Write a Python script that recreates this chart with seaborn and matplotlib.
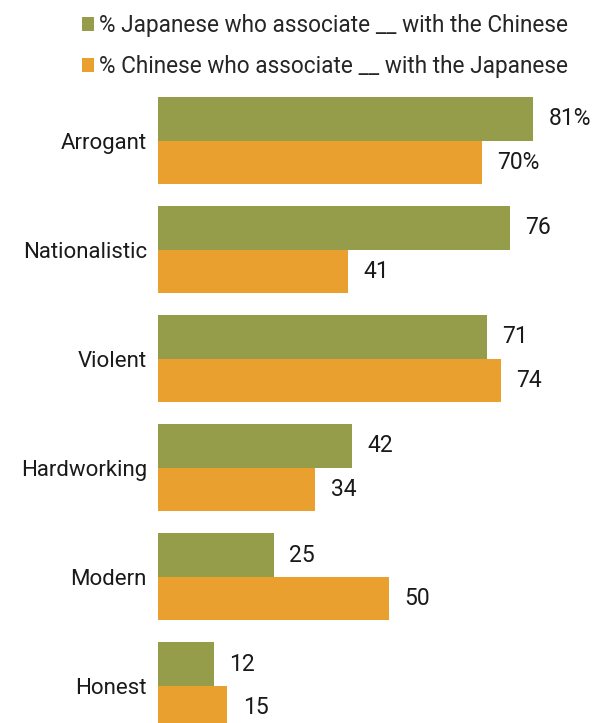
import matplotlib
matplotlib.use("Agg")
import matplotlib.pyplot as plt
import seaborn as sns
import pandas as pd

categories = ["Arrogant", "Nationalistic", "Violent", "Hardworking", "Modern", "Honest"]
japanese_of_chinese = [81, 76, 71, 42, 25, 12]
chinese_of_japanese = [70, 41, 74, 34, 50, 15]
series_names = ["% Japanese who associate __ with the Chinese",
                "% Chinese who associate __ with the Japanese"]
colors = ["#959D4B", "#EAA02E"]

df = pd.DataFrame({
    "trait": categories * 2,
    "value": japanese_of_chinese + chinese_of_japanese,
    "series": [series_names[0]] * len(categories) + [series_names[1]] * len(categories),
})

sns.set_style("white")
plt.rcParams["font.family"] = ["Roboto", "DejaVu Sans"]

fig = plt.figure(figsize=(6.02, 7.23), dpi=100)
ax = fig.add_axes([158 / 602, 0, (602 - 158) / 602, 626 / 723])

sns.barplot(data=df, x="value", y="trait", hue="series", orient="h",
            palette=colors, width=0.8, ax=ax, saturation=1, legend=True,
            edgecolor="none")

ax.set_xlim(0, 95.9)
ax.set_ylim(5.34, -0.4)
sns.despine(ax=ax, left=True, bottom=True)
ax.set_xticks([])
ax.set_xlabel("")
ax.set_ylabel("")
ax.tick_params(axis="y", length=0, pad=8, labelsize=16, labelcolor="#1a1a1a")

for i, cont in enumerate(ax.containers):
    vals = japanese_of_chinese if i == 0 else chinese_of_japanese
    labels = [f"{v}%" if j == 0 else f"{v}" for j, v in enumerate(vals)]
    ax.bar_label(cont, labels=labels, padding=11, fontsize=16.5, color="#1a1a1a")

handles, labs = ax.get_legend_handles_labels()
ax.get_legend().remove()
fig.legend(handles, labs, loc="upper right", bbox_to_anchor=(577 / 602, 1 - 5 / 723),
           frameon=False, fontsize=16.3, handlelength=0.55, handleheight=0.55,
           handletextpad=0.2, labelspacing=0.8, borderaxespad=0)

fig.savefig("out.png", dpi=100)
